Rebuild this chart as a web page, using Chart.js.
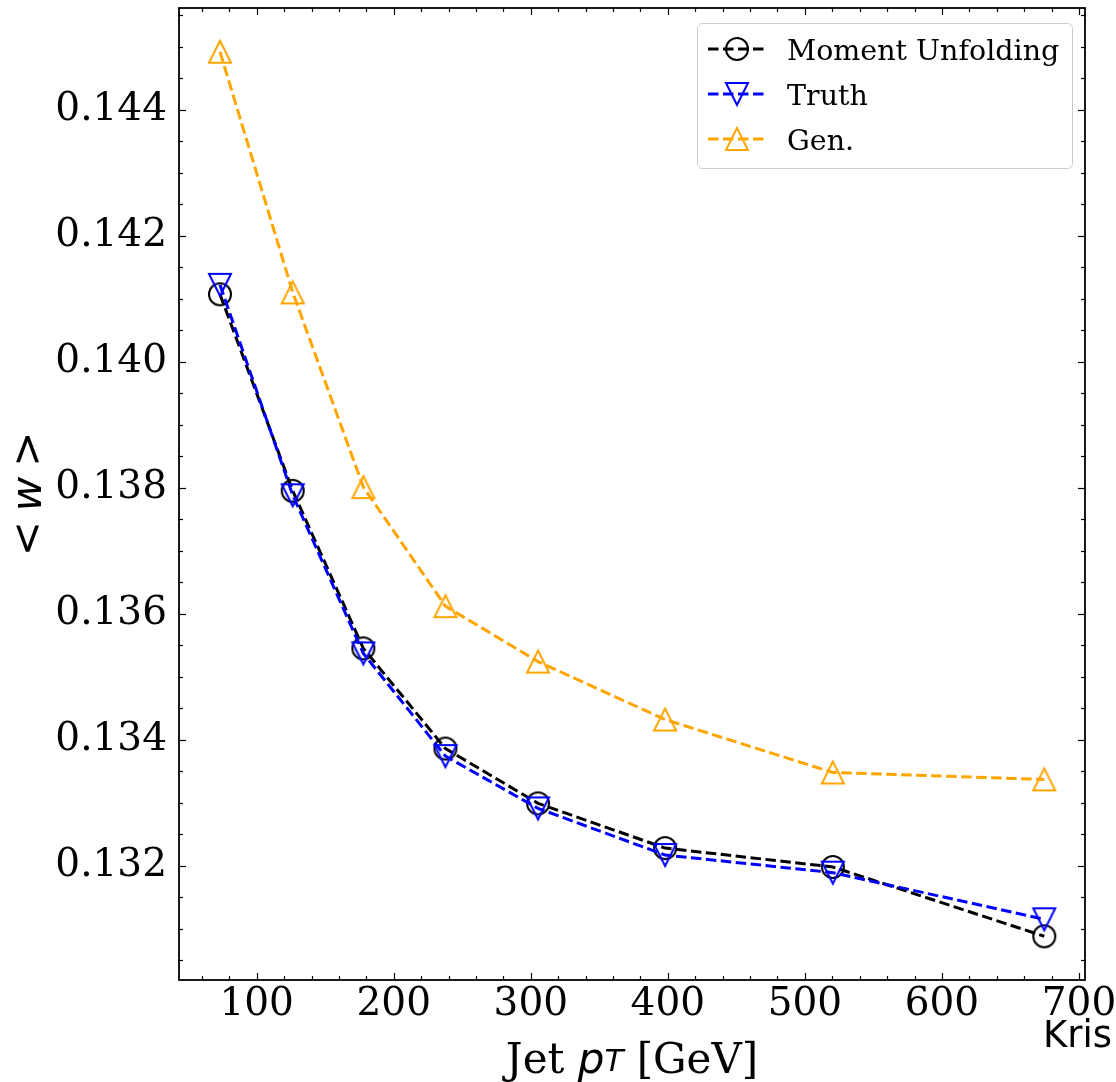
<!DOCTYPE html>
<html>
<head>
<meta charset="utf-8">
<title>Mean w vs jet pT</title>
<script src="https://cdn.jsdelivr.net/npm/chart.js@4/dist/chart.umd.min.js"></script>
<style>
  html, body { margin: 0; padding: 0; background: #ffffff; }
  #wrap { width: 1116px; height: 1082px; position: relative; }
</style>
</head>
<body>
<div id="wrap"><canvas id="c" width="1116" height="1082"></canvas></div>
<script>
// ---- data ----
const jetPt = [73.2, 126.3, 177.8, 237.7, 305.3, 398.0, 520.4, 674.7];
const momentUnfolding = [0.14107, 0.13795, 0.13545, 0.13386, 0.13299, 0.13228, 0.13198, 0.13088];
const truth = [0.14122, 0.13788, 0.13537, 0.13374, 0.13291, 0.13217, 0.13189, 0.13115];
const gen = [0.14492, 0.14110, 0.13801, 0.13612, 0.13524, 0.13432, 0.13348, 0.13337];
const seriesNames = ['Moment Unfolding', 'Truth', 'Gen.'];

const xTickValues = [100, 200, 300, 400, 500, 600, 700];
const xTickLabels = ['100', '200', '300', '400', '500', '600', '700'];
const yTickValues = [0.132, 0.134, 0.136, 0.138, 0.140, 0.142, 0.144];
const yTickLabels = ['0.132', '0.134', '0.136', '0.138', '0.140', '0.142', '0.144'];
const xMinorStep = 20;
const yMinorStep = 0.0005;

// ---- styling helpers ----
const SERIF = "'DejaVu Serif', serif";
const SANS = "'DejaVu Sans', sans-serif";
const DASH = [10.5, 4.5];
const LINE_W = 3;

// hollow marker sprites (circle, up-triangle, down-triangle)
function makeMarker(shape, color) {
  const size = 22, lw = 2, pad = 3;
  const c = document.createElement('canvas');
  c.width = c.height = size + 2 * pad;
  const g = c.getContext('2d');
  const m = c.width / 2, h = size / 2;
  g.strokeStyle = color;
  g.lineWidth = lw;
  g.lineJoin = 'miter';
  g.beginPath();
  if (shape === 'circle') {
    g.arc(m, m, h, 0, Math.PI * 2);
  } else if (shape === 'up') {
    g.moveTo(m, m - h); g.lineTo(m + h, m + h); g.lineTo(m - h, m + h); g.closePath();
  } else {
    g.moveTo(m, m + h); g.lineTo(m - h, m - h); g.lineTo(m + h, m - h); g.closePath();
  }
  g.stroke();
  return c;
}

function series(label, values, color, shape, order) {
  return {
    label: label,
    data: jetPt.map((x, i) => ({ x: x, y: values[i] })),
    borderColor: color,
    backgroundColor: color,
    borderWidth: LINE_W,
    borderDash: DASH,
    borderCapStyle: 'butt',
    tension: 0,
    fill: false,
    pointStyle: makeMarker(shape, color),
    pointRadius: 11,
    pointHoverRadius: 11,
    order: order
  };
}

// ---- frame: spines + inward ticks on all sides ----
const framePlugin = {
  id: 'frame',
  afterDatasetsDraw(chart) {
    const { ctx, chartArea: a, scales: { x, y } } = chart;
    ctx.save();
    ctx.strokeStyle = '#000';
    ctx.lineWidth = 1.2;
    const seg = (x1, y1, x2, y2) => { ctx.beginPath(); ctx.moveTo(x1, y1); ctx.lineTo(x2, y2); ctx.stroke(); };
    const xTick = (v, len) => {
      const p = Math.round(x.getPixelForValue(v)) + 0.5;
      seg(p, a.bottom, p, a.bottom - len);
      seg(p, a.top, p, a.top + len);
    };
    const yTick = (v, len) => {
      const p = Math.round(y.getPixelForValue(v)) + 0.5;
      seg(a.left, p, a.left + len, p);
      seg(a.right, p, a.right - len, p);
    };
    xTickValues.forEach(v => xTick(v, 7));
    for (let k = Math.ceil(x.min / xMinorStep); k * xMinorStep <= x.max; k++) {
      const v = k * xMinorStep;
      if (!xTickValues.some(t => Math.abs(t - v) < 1e-9)) xTick(v, 4);
    }
    yTickValues.forEach(v => yTick(v, 7));
    for (let k = Math.ceil(y.min / yMinorStep - 1e-9); k * yMinorStep <= y.max + 1e-12; k++) {
      const v = k * yMinorStep;
      if (!yTickValues.some(t => Math.abs(t - v) < 1e-9)) yTick(v, 4);
    }
    ctx.lineWidth = 1.8;
    ctx.strokeRect(a.left, a.top, a.right - a.left, a.bottom - a.top);
    ctx.restore();
  }
};

// ---- legend box in the upper right of the plot area ----
const legendPlugin = {
  id: 'legendBox',
  afterDraw(chart) {
    const { ctx, chartArea: a } = chart;
    const bw = 375, bh = 145;
    const bx = a.right - 13 - bw, by = a.top + 15;
    ctx.save();
    ctx.beginPath();
    ctx.roundRect(bx + 0.5, by + 0.5, bw, bh, 5);
    ctx.fillStyle = 'rgba(255,255,255,0.8)';
    ctx.fill();
    ctx.strokeStyle = '#cccccc';
    ctx.lineWidth = 1;
    ctx.stroke();
    const fs = 28.5;
    chart.data.datasets.forEach((ds, i) => {
      const ry = by + 26 + i * 45;
      ctx.save();
      ctx.strokeStyle = ds.borderColor;
      ctx.lineWidth = ds.borderWidth;
      ctx.setLineDash(ds.borderDash);
      ctx.lineCap = 'butt';
      ctx.beginPath();
      ctx.moveTo(bx + 11, ry);
      ctx.lineTo(bx + 68, ry);
      ctx.stroke();
      ctx.restore();
      const img = ds.pointStyle;
      ctx.drawImage(img, Math.round(bx + 39.5 - img.width / 2), Math.round(ry - img.height / 2));
      ctx.fillStyle = '#000';
      ctx.font = fs + 'px ' + SERIF;
      ctx.textBaseline = 'alphabetic';
      ctx.textAlign = 'left';
      ctx.fillText(ds.label, bx + 90, ry + 10.5);
    });
    ctx.restore();
  }
};

// ---- axis titles and corner text ----
const titlePlugin = {
  id: 'titles',
  afterDraw(chart) {
    const { ctx, chartArea: a } = chart;
    ctx.save();
    ctx.fillStyle = '#000';
    ctx.textBaseline = 'alphabetic';
    ctx.textAlign = 'left';

    // x title: Jet p_T [GeV]
    const fMain = '42px ' + SERIF;
    const fMath = 'italic 42px ' + SANS;
    const fSub = 'italic 31px ' + SANS;
    const parts = [
      { t: 'Jet ', f: fMain, dy: 0 },
      { t: 'p', f: fMath, dy: 0 },
      { t: 'T', f: fSub, dy: -2 },
      { t: ' [GeV]', f: fMain, dy: 0 }
    ];
    let total = 0;
    parts.forEach(p => { ctx.font = p.f; p.w = ctx.measureText(p.t).width; total += p.w; });
    let cx = (a.left + a.right) / 2 - total / 2;
    const base = 1073;
    parts.forEach(p => { ctx.font = p.f; ctx.fillText(p.t, cx, base + p.dy); cx += p.w; });

    // y title: < w >
    ctx.save();
    ctx.translate(41, (a.top + a.bottom) / 2);
    ctx.rotate(-Math.PI / 2);
    const yParts = [
      { t: '<', f: '42px ' + SANS, gap: 10 },
      { t: 'w', f: 'italic 42px ' + SANS, gap: 10 },
      { t: '>', f: '42px ' + SANS, gap: 0 }
    ];
    let yt = 0;
    yParts.forEach(p => { ctx.font = p.f; p.w = ctx.measureText(p.t).width; yt += p.w + p.gap; });
    let px = -yt / 2;
    yParts.forEach(p => { ctx.font = p.f; ctx.fillText(p.t, px, 0); px += p.w + p.gap; });
    ctx.restore();

    // corner text
    ctx.font = '37px ' + SANS;
    ctx.fillText('Kris', 1043, 1047);
    ctx.restore();
  }
};

new Chart(document.getElementById('c'), {
  type: 'line',
  data: {
    datasets: [
      series(seriesNames[0], momentUnfolding, '#000000', 'circle', 3),
      series(seriesNames[1], truth, '#0000ff', 'down', 2),
      series(seriesNames[2], gen, '#ffa500', 'up', 1)
    ]
  },
  options: {
    responsive: false,
    animation: false,
    devicePixelRatio: 1,
    events: [],
    layout: { autoPadding: false, padding: { left: 0, right: 31, top: 8, bottom: 0 } },
    plugins: { legend: { display: false }, tooltip: { enabled: false } },
    scales: {
      x: {
        type: 'linear',
        position: 'bottom',
        min: 43.3,
        max: 704.4,
        grid: { display: false, drawTicks: false },
        border: { display: false },
        afterBuildTicks: s => { s.ticks = xTickValues.map(v => ({ value: v })); },
        afterFit: s => { s.height = 102; s.paddingLeft = 0; s.paddingRight = 0; },
        ticks: {
          font: { family: SERIF, size: 39, lineHeight: 1 },
          color: '#000',
          padding: 5,
          maxRotation: 0,
          autoSkip: false,
          callback: (v, i) => xTickLabels[i]
        }
      },
      y: {
        type: 'linear',
        position: 'left',
        min: 0.130186,
        max: 0.145614,
        grid: { display: false, drawTicks: false },
        border: { display: false },
        afterBuildTicks: s => { s.ticks = yTickValues.map(v => ({ value: v })); },
        afterFit: s => { s.width = 179; s.paddingTop = 0; s.paddingBottom = 0; },
        ticks: {
          font: { family: SERIF, size: 39, lineHeight: 1 },
          color: '#000',
          padding: 12,
          autoSkip: false,
          callback: (v, i) => yTickLabels[i]
        }
      }
    }
  },
  plugins: [framePlugin, legendPlugin, titlePlugin]
});
</script>
</body>
</html>
